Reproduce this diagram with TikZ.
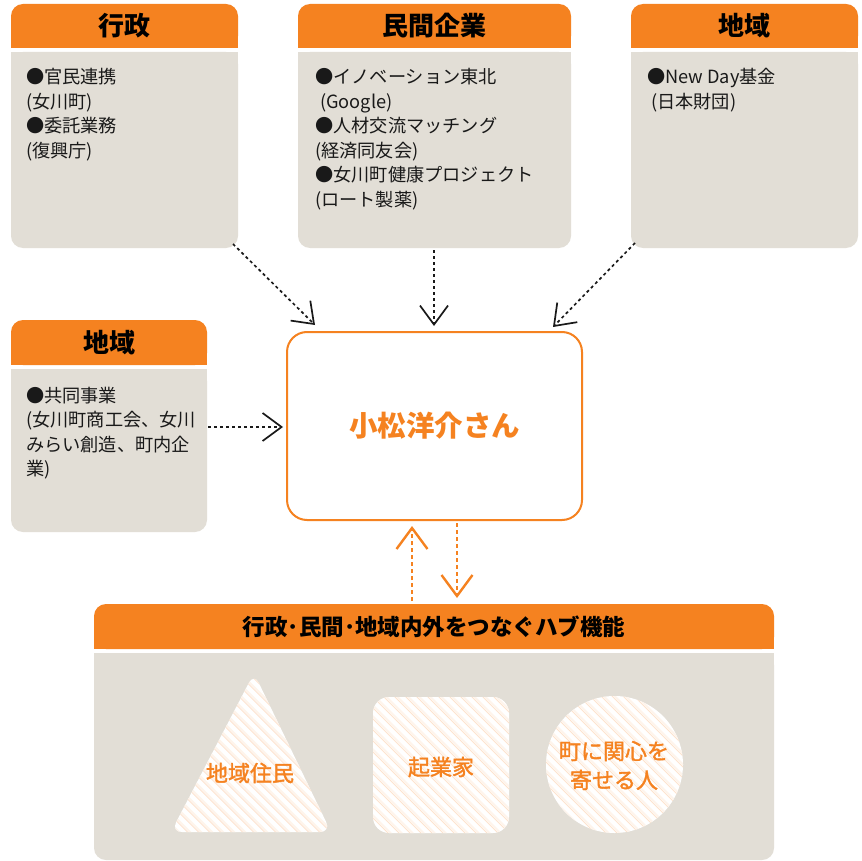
\documentclass[tikz,border=0pt]{standalone}
\usepackage{fontspec}
\setmainfont{Noto Sans CJK JP}
\newfontfamily\jpmed{Noto Sans CJK JP}[FakeBold=1.6]
\usetikzlibrary{arrows.meta}
\definecolor{orj}{RGB}{245,130,32}
\definecolor{gry}{RGB}{226,222,214}
\definecolor{ink}{RGB}{25,25,25}
\begin{document}
\begin{tikzpicture}[x=1pt,y=-1pt,
  ttl/.style={inner sep=0pt, font=\bfseries\fontsize{26}{30}\selectfont, text=black},
  txt/.style={anchor=base west, inner sep=0pt, font=\fontsize{18.2}{24}\selectfont, text=ink},
  otxt/.style={inner sep=0pt, font=\jpmed\fontsize{22}{29}\selectfont, text=orj, align=center},
  dotarrow/.style={ink, line width=1.7pt, dash pattern=on 3pt off 3pt,
    -{Straight Barb[length=19pt,width=28pt,line width=1.7pt]}},
  orarrow/.style={orj, line width=2pt, dash pattern=on 4pt off 3pt,
    -{Straight Barb[length=21pt,width=31pt,line width=2.4pt]}},
  stripes/.style={fill=white, path picture={
    \foreach \k in {-220,-209,...,220}{
      \draw[orj!22, line width=1pt] ([xshift=\k pt]path picture bounding box.center) ++(-150pt,150pt) -- ++(300pt,-300pt);
      \draw[orj!9, line width=2pt] ([xshift=\k pt+2.5pt]path picture bounding box.center) ++(-150pt,150pt) -- ++(300pt,-300pt);
    }}}
]
\useasboundingbox (0,0) rectangle (862,861);
\fill[white] (0,0) rectangle (862,861);

% ---------- top left: 行政
\fill[orj, rounded corners=12pt] (11,4) rectangle (238,48);
\fill[orj] (11,30) rectangle (238,48);
\fill[gry, rounded corners=12pt] (11,52) rectangle (238,248);
\fill[gry] (11,52) rectangle (238,70);
\node[ttl] (t1) at (124.5,26) {行政};
\node[txt] (t1a) at (26,84) {●官民連携};
\node[txt] (t1b) at (26,108.5) {(女川町)};
\node[txt] (t1c) at (26,133) {●委託業務};
\node[txt] (t1d) at (26,157.5) {(復興庁)};

% ---------- top middle: 民間企業
\fill[orj, rounded corners=12pt] (298,4) rectangle (571,48);
\fill[orj] (298,30) rectangle (571,48);
\fill[gry, rounded corners=12pt] (298,52) rectangle (571,248);
\fill[gry] (298,52) rectangle (571,70);
\node[ttl] (t2) at (434.5,26) {民間企業};
\node[txt] (t2a) at (315,84) {●イノベーション東北};
\node[txt] (t2b) at (320,108.5) {(Google)};
\node[txt] (t2c) at (315,133) {●人材交流マッチング};
\node[txt] (t2d) at (315,157.5) {(経済同友会)};
\node[txt] (t2e) at (315,182) {●女川町健康プロジェクト};
\node[txt] (t2f) at (315,206.5) {(ロート製薬)};

% ---------- top right: 地域
\fill[orj, rounded corners=12pt] (631,4) rectangle (858,48);
\fill[orj] (631,30) rectangle (858,48);
\fill[gry, rounded corners=12pt] (631,52) rectangle (858,248);
\fill[gry] (631,52) rectangle (858,70);
\node[ttl] (t3) at (744.5,26) {地域};
\node[txt] (t3a) at (647,84) {●New Day基金};
\node[txt] (t3b) at (651,108.5) {(日本財団)};

% ---------- left: 地域
\fill[orj, rounded corners=12pt] (11,320) rectangle (207,365);
\fill[orj] (11,345) rectangle (207,365);
\fill[gry, rounded corners=12pt] (11,369) rectangle (207,532);
\fill[gry] (11,369) rectangle (207,390);
\node[ttl] (t4) at (109,343) {地域};
\node[txt] (t4a) at (26,402) {●共同事業};
\node[txt] (t4b) at (26,426.5) {(女川町商工会、女川};
\node[txt] (t4c) at (26,451) {みらい創造、町内企};
\node[txt] (t4d) at (26,475.5) {業)};

% ---------- centre
\node[draw=orj, line width=2pt, rounded corners=20pt, minimum width=295pt, minimum height=188pt,
      inner sep=0pt, text=orj, font=\bfseries\fontsize{28.5}{32}\selectfont] (hub) at (434.5,426) {小松洋介さん};

% ---------- bottom hub
\fill[orj, rounded corners=12pt] (94,604) rectangle (774,649);
\fill[orj] (94,630) rectangle (774,649);
\fill[gry, rounded corners=12pt] (94,653) rectangle (774,860);
\fill[gry] (94,653) rectangle (774,680);
\node[inner sep=0pt, font=\bfseries\fontsize{22.5}{28}\selectfont, text=black] (t5) at (434,627) {行政･民間･地域内外をつなぐハブ機能};

\path[stripes, rounded corners=11pt] (251,832) -- (171,832) -- (254,673) -- (331,832) -- cycle;
\node[otxt] (s1) at (250,773) {地域住民};
\node[stripes, rounded corners=16pt, minimum width=136pt, minimum height=136pt, inner sep=0pt] (sq) at (441,765) {};
\node[otxt] (s2) at (441,767) {起業家};
\node[stripes, circle, minimum size=137pt, inner sep=0pt] (circ) at (614.5,764.5) {};
\node[otxt] (s3) at (614,765.5) {町に関心を\\寄せる人};

% ---------- connectors
\coordinate (a1s) at (233,244); \coordinate (a1e) at (315,325);
\coordinate (a2s) at (434,250); \coordinate (a2e) at (434,326);
\coordinate (a3s) at (635,243); \coordinate (a3e) at (553,327);
\coordinate (a4s) at (208,427); \coordinate (a4e) at (283,427);
\draw[dotarrow] (a1s) -- (a1e);
\draw[dotarrow] (a2s) -- (a2e);
\draw[dotarrow] (a3s) -- (a3e);
\draw[dotarrow] (a4s) -- (a4e);
\coordinate (o1s) at (412,601); \coordinate (o1e) at (412,526);
\coordinate (o2s) at (457,523); \coordinate (o2e) at (457,598);
\draw[orarrow] (o1s) -- (o1e);
\draw[orarrow] (o2s) -- (o2e);
\end{tikzpicture}
\end{document}
